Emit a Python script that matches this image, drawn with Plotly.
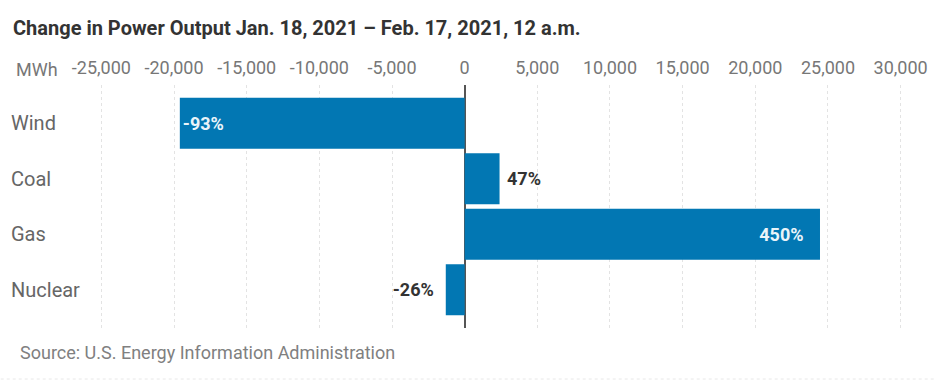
import plotly.graph_objects as go

categories = ["Wind", "Coal", "Gas", "Nuclear"]
change_mwh = [-19600, 2400, 24450, -1300]
pct_labels = ["-93%", "47%", "450%", "-26%"]
label_pos = ["inside", "outside", "inside", "outside"]
tick_vals = [-25000, -20000, -15000, -10000, -5000, 0, 5000, 10000, 15000, 20000, 25000, 30000]
tick_text = ["-25,000", "-20,000", "-15,000", "-10,000", "-5,000", "0",
             "5,000", "10,000", "15,000", "20,000", "25,000", "30,000"]

W, H = 940, 381
L, R, T, B = 97, 29, 85, 53
FONT = "Roboto"
BLUE = "#0277b3"
NB = "\u00a0"

# small padding around bar labels (matching the reference spacing)
pad_before = [0, 1, 0, 0]
pad_after = [0, 0, 3, 2]
bar_text = [NB * a + t + NB * b for t, a, b in zip(pct_labels, pad_before, pad_after)]

fig = go.Figure()
fig.add_trace(go.Bar(
    y=categories, x=change_mwh, orientation="h",
    marker=dict(color=BLUE, line=dict(width=0)),
    text=bar_text, textposition=label_pos, insidetextanchor="end",
    insidetextfont=dict(family=FONT, size=18, color="#eaf4fa", weight="bold"),
    outsidetextfont=dict(family=FONT, size=18, color="#333333", weight="bold"),
    cliponaxis=False, hoverinfo="skip",
))

PW, PH = W - L - R, H - T - B
annotations = [
    dict(text="Change in Power Output Jan. 18, 2021 – Feb. 17, 2021, 12 a.m.",
         xref="paper", yref="paper", x=(10 - L) / PW, y=1 + (T - 28) / PH,
         xanchor="left", yanchor="middle", showarrow=False,
         font=dict(family=FONT, size=20, color="#333333", weight="bold")),
    dict(text="MWh", xref="paper", yref="paper", x=(13 - L) / PW,
         y=1 + (T - 70) / PH, xanchor="left", yanchor="middle", showarrow=False,
         font=dict(family=FONT, size=18, color="#777777")),
    dict(text="Source: U.S. Energy Information Administration", xref="paper", yref="paper",
         x=(17 - L) / PW, y=-(352 - (H - B)) / PH,
         xanchor="left", yanchor="middle", showarrow=False,
         font=dict(family=FONT, size=18, color="#808080")),
]
for c in categories:
    annotations.append(dict(text=c, xref="paper", yref="y", x=(8 - L) / PW, y=c,
                            xanchor="left", yanchor="middle", showarrow=False,
                            font=dict(family=FONT, size=20, color="#666666")))

fig.update_layout(
    width=W, height=H,
    margin=dict(l=L, r=R, t=T, b=B),
    paper_bgcolor="white", plot_bgcolor="white",
    showlegend=False, bargap=0.08,
    xaxis=dict(side="top", range=[-25300, 30300], tickvals=tick_vals, ticktext=tick_text,
               tickfont=dict(family=FONT, size=18, color="#777777"),
               showgrid=True, gridcolor="#e3e3e3", gridwidth=1, griddash="dot",
               zeroline=True, zerolinecolor="#555555", zerolinewidth=1.5,
               showline=False, ticks="", ticklabelstandoff=6, fixedrange=True),
    yaxis=dict(range=[3.69, -0.69], showticklabels=False, showgrid=False,
               zeroline=False, showline=False, ticks="", fixedrange=True),
    annotations=annotations,
    shapes=[dict(type="line", xref="paper", yref="paper",
                 x0=(0 - L) / PW, x1=(W - L) / PW,
                 y0=-(379 - (H - B)) / PH, y1=-(379 - (H - B)) / PH,
                 line=dict(color="#e8e8e8", width=1, dash="dot"))],
)

fig.write_html("out.html", config={"displayModeBar": False})

# remove the browser's default page margin so the figure sits at (0, 0)
with open("out.html", encoding="utf-8") as f:
    html = f.read()
html = html.replace("<head>", "<head><style>html,body{margin:0;padding:0;overflow:hidden;}</style>", 1)
with open("out.html", "w", encoding="utf-8") as f:
    f.write(html)
